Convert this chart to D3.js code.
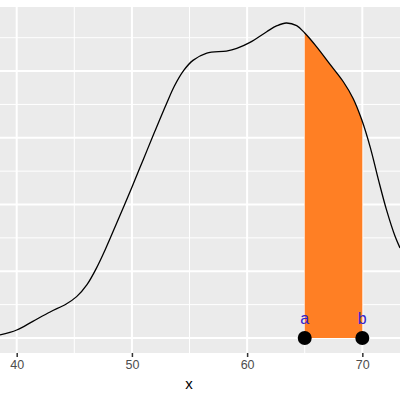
<!DOCTYPE html>
<html>
<head>
<meta charset="utf-8">
<script src="https://cdn.jsdelivr.net/npm/d3@7"></script>
<style>
  html, body { margin: 0; padding: 0; background: #fff; }
  svg { display: block; font-family: "Liberation Sans", Arial, sans-serif; }
</style>
</head>
<body>
<div id="chart"></div>
<script>
/* density curve */
const xVals = [38.55, 40.0, 41.4, 42.9, 44.3, 45.2, 46.1, 46.9, 47.7, 48.7, 50.0, 51.0, 52.0, 53.0, 53.7, 54.5, 55.3, 56.5, 58.2, 59.1, 60.25, 61.7, 62.6, 63.4, 64.3, 65.0, 66.0, 67.2, 68.35, 69.2, 69.95, 70.7, 71.4, 72.1, 72.85, 73.27];
const dens  = [0.00045, 0.0012, 0.0025, 0.0039, 0.0051, 0.0062, 0.0080, 0.0104, 0.0133, 0.0173, 0.0226, 0.0268, 0.0310, 0.0351, 0.0378, 0.0401, 0.0416, 0.0427, 0.0430, 0.0434, 0.0443, 0.0459, 0.0468, 0.0472, 0.0468, 0.0457, 0.0437, 0.0410, 0.0384, 0.0359, 0.0327, 0.0285, 0.0237, 0.0192, 0.0152, 0.0135];

const xTicks      = [40, 50, 60, 70];
const xMinorTicks = [45, 55, 65];
const yTicks      = [0, 0.01, 0.02, 0.03, 0.04];
const yMinorTicks = [0.005, 0.015, 0.025, 0.035, 0.045];

const markers = ['a', 'b'];
const markerX = [65, 70];

const W = 400, H = 400;
const PANEL = { left: 0, right: 400, top: 7, bottom: 353 };

const data = xVals.map((x, i) => ({ x, y: dens[i] }));

const x = d3.scaleLinear().domain([38.55, 73.27]).range([PANEL.left, PANEL.right]);
const y = d3.scaleLinear().domain([-0.00225, 0.0496]).range([PANEL.bottom, PANEL.top]);

const svg = d3.select('#chart').append('svg')
    .attr('width', W)
    .attr('height', H);

const defs = svg.append('defs');
defs.append('clipPath').attr('id', 'panel-clip')
    .append('rect')
    .attr('x', PANEL.left).attr('y', PANEL.top)
    .attr('width', PANEL.right - PANEL.left).attr('height', PANEL.bottom - PANEL.top);
defs.append('clipPath').attr('id', 'fill-clip')
    .append('rect')
    .attr('x', x(markerX[0])).attr('y', PANEL.top)
    .attr('width', x(markerX[1]) - x(markerX[0])).attr('height', PANEL.bottom - PANEL.top);

/* panel background */
svg.append('rect')
    .attr('x', PANEL.left).attr('y', PANEL.top)
    .attr('width', PANEL.right - PANEL.left).attr('height', PANEL.bottom - PANEL.top)
    .attr('fill', '#EBEBEB');

const grid = svg.append('g').attr('clip-path', 'url(#panel-clip)');

/* minor grid */
grid.selectAll('.vminor').data(xMinorTicks).join('line')
    .attr('x1', d => x(d)).attr('x2', d => x(d))
    .attr('y1', PANEL.top).attr('y2', PANEL.bottom)
    .attr('stroke', '#fff').attr('stroke-width', 1);
grid.selectAll('.hminor').data(yMinorTicks).join('line')
    .attr('y1', d => y(d)).attr('y2', d => y(d))
    .attr('x1', PANEL.left).attr('x2', PANEL.right)
    .attr('stroke', '#fff').attr('stroke-width', 1);

/* major grid */
grid.selectAll('.vmajor').data(xTicks).join('line')
    .attr('x1', d => x(d)).attr('x2', d => x(d))
    .attr('y1', PANEL.top).attr('y2', PANEL.bottom)
    .attr('stroke', '#fff').attr('stroke-width', 2);
grid.selectAll('.hmajor').data(yTicks).join('line')
    .attr('y1', d => y(d)).attr('y2', d => y(d))
    .attr('x1', PANEL.left).attr('x2', PANEL.right)
    .attr('stroke', '#fff').attr('stroke-width', 2);

const curve = d3.curveCatmullRom.alpha(0.5);

/* shaded area between a and b */
const area = d3.area()
    .x(d => x(d.x))
    .y0(y(0))
    .y1(d => y(d.y))
    .curve(curve);

svg.append('g').attr('clip-path', 'url(#fill-clip)')
    .append('path')
    .datum(data)
    .attr('d', area)
    .attr('fill', '#FF7F24');

/* density line */
const line = d3.line()
    .x(d => x(d.x))
    .y(d => y(d.y))
    .curve(curve);

svg.append('g').attr('clip-path', 'url(#panel-clip)')
    .append('path')
    .datum(data)
    .attr('d', line)
    .attr('fill', 'none')
    .attr('stroke', '#000')
    .attr('stroke-width', 1.3);

/* points + labels */
svg.selectAll('.pt').data(markerX).join('circle')
    .attr('cx', d => x(d)).attr('cy', y(0))
    .attr('r', 7)
    .attr('fill', '#000');

svg.selectAll('.lbl').data(markers).join('text')
    .attr('x', (d, i) => x(markerX[i]))
    .attr('y', y(0) - 14)
    .attr('text-anchor', 'middle')
    .attr('fill', '#3322cc')
    .attr('font-size', 16)
    .text(d => d);

/* x axis */
const xAxis = svg.append('g')
    .attr('transform', `translate(0,${PANEL.bottom})`)
    .call(d3.axisBottom(x).tickValues(xTicks).tickSize(4).tickPadding(3));
xAxis.select('.domain').remove();
xAxis.selectAll('.tick line').attr('stroke', '#333').attr('stroke-width', 1.5);
xAxis.selectAll('.tick text')
    .attr('fill', '#4D4D4D')
    .attr('font-size', 12.5)
    .attr('font-family', '"Liberation Sans", Arial, sans-serif');

svg.append('text')
    .attr('x', (PANEL.left + PANEL.right) / 2 - 11)
    .attr('y', 389)
    .attr('text-anchor', 'middle')
    .attr('fill', '#000')
    .attr('font-size', 15)
    .text('x');
</script>
</body>
</html>
